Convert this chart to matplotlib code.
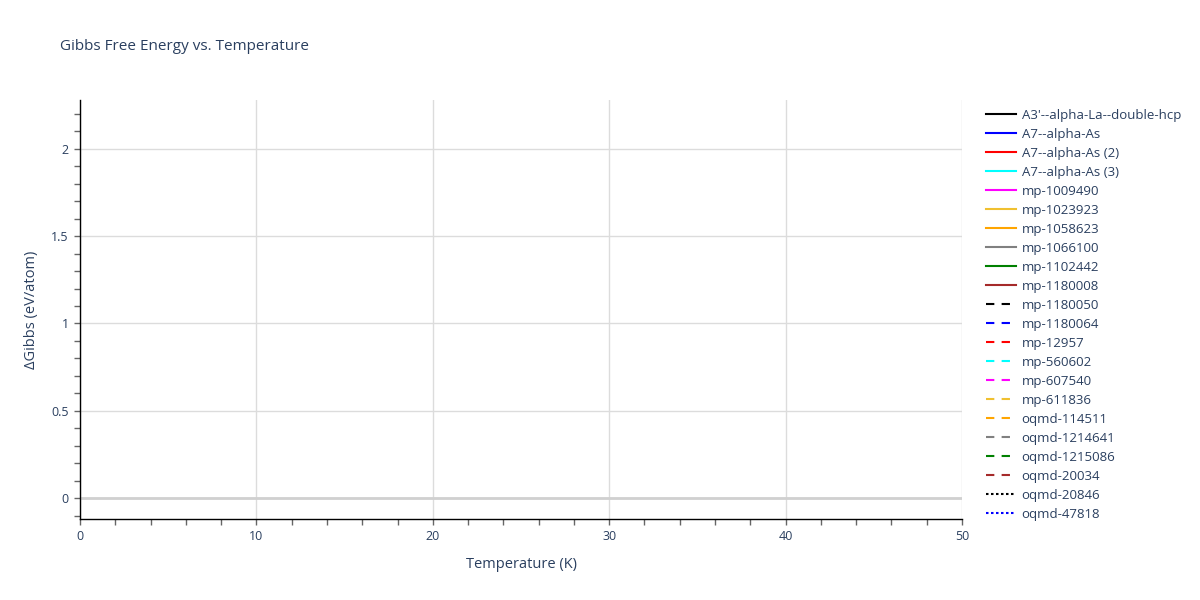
import matplotlib
matplotlib.use("Agg")
import matplotlib.pyplot as plt
from matplotlib.ticker import MultipleLocator

plt.rcParams["font.family"] = ["Open Sans", "DejaVu Sans"]

TEXT = "#2a3f5f"

# series shown in the legend (no points fall inside the plotted window)
names = [
    "A3'--alpha-La--double-hcp", "A7--alpha-As", "A7--alpha-As (2)",
    "A7--alpha-As (3)", "mp-1009490", "mp-1023923", "mp-1058623",
    "mp-1066100", "mp-1102442", "mp-1180008", "mp-1180050", "mp-1180064",
    "mp-12957", "mp-560602", "mp-607540", "mp-611836", "oqmd-114511",
    "oqmd-1214641", "oqmd-1215086", "oqmd-20034", "oqmd-20846", "oqmd-47818",
]
colors = [
    "black", "blue", "red", "cyan", "magenta", "#f0c030", "orange", "gray",
    "green", "brown",
    "black", "blue", "red", "cyan", "magenta", "#f0c030", "orange", "gray",
    "green", "brown",
    "black", "blue",
]
styles = ["solid"] * 10 + ["dash"] * 10 + ["dot"] * 2
temperature = [[] for _ in names]
gibbs = [[] for _ in names]

dash_map = {"solid": "-", "dash": (0, (4, 3.5)), "dot": (0, (1.2, 1.2))}

fig = plt.figure(figsize=(12, 6), dpi=100)
ax = fig.add_axes([80 / 1200, 81 / 600, 882 / 1200, 419 / 600])

handles = []
for name, col, st, t, g in zip(names, colors, styles, temperature, gibbs):
    line, = ax.plot(t, g, color=col, lw=1.5, ls=dash_map[st], label=name)
    handles.append(line)

ax.set_xlim(0, 50)
ax.set_ylim(-0.12, 2.28)
ax.xaxis.set_major_locator(MultipleLocator(10))
ax.xaxis.set_minor_locator(MultipleLocator(2))
ax.yaxis.set_major_locator(MultipleLocator(0.5))
ax.yaxis.set_minor_locator(MultipleLocator(0.1))
ax.yaxis.set_major_formatter(plt.FuncFormatter(lambda v, p: f"{v:g}"))

ax.grid(True, which="major", color="#dcdcdc", lw=1)
ax.axhline(0, color="#d0d0d0", lw=2, zorder=1)
ax.set_axisbelow(True)

for s in ["top", "right"]:
    ax.spines[s].set_visible(False)
for s in ["left", "bottom"]:
    ax.spines[s].set_color("black")
    ax.spines[s].set_linewidth(1)

ax.tick_params(which="both", direction="out", color="#666666", length=4,
               width=1, labelsize=9, labelcolor=TEXT, pad=4)

ax.set_xlabel("Temperature (K)", fontsize=10.5, color=TEXT, labelpad=10)
ax.set_ylabel("ΔGibbs (eV/atom)", fontsize=10.5, color=TEXT, labelpad=9)

fig.text(60 / 1200, 1 - 46 / 600, "Gibbs Free Energy vs. Temperature",
         fontsize=11, color=TEXT, va="center", ha="left")

fig.legend(handles=handles, loc="upper left",
           bbox_to_anchor=(986 / 1200, 1 - 109 / 600), frameon=False,
           fontsize=9.5, labelcolor=TEXT, handlelength=2.3, handletextpad=0.4,
           labelspacing=0.455, borderpad=0, borderaxespad=0)

fig.savefig("out.png", dpi=100, facecolor="white")
